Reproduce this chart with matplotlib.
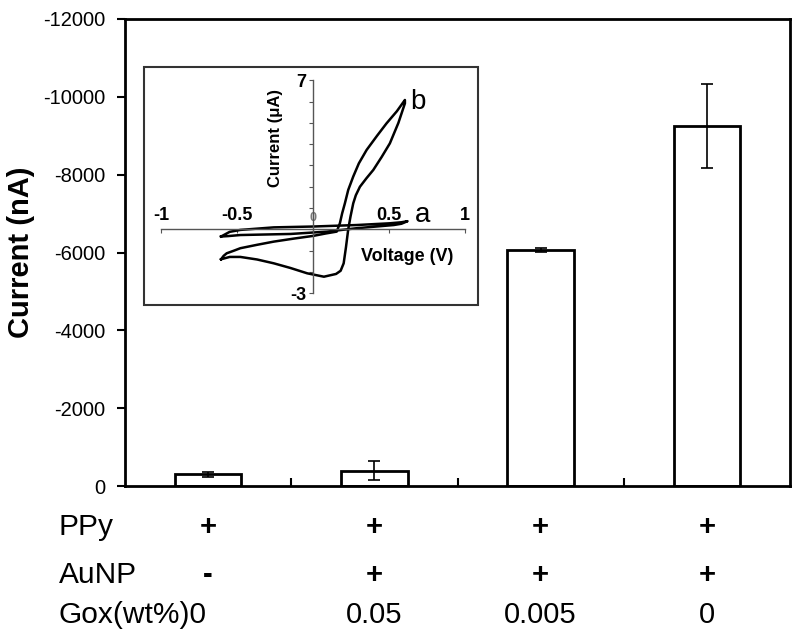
import numpy as np
import matplotlib
matplotlib.use("Agg")
import matplotlib.pyplot as plt
from matplotlib.patches import Rectangle

plt.rcParams['font.family'] = ['Liberation Sans', 'DejaVu Sans']

# main bar data (nA, plotted as negative currents)
currents = [-300, -390, -6070, -9250]
errors = [70, 240, 50, 1090]
ppy_row = ["+", "+", "+", "+"]
aunp_row = ["-", "+", "+", "+"]
gox_row = ["0", "0.05", "0.005", "0"]
yticks = [0, -2000, -4000, -6000, -8000, -10000, -12000]

# inset CV curves (V, uA)
b_v = [-0.607, -0.59, -0.57, -0.52, -0.48, -0.37, -0.26, -0.13, 0.0, 0.08, 0.154, 0.175,
       0.19, 0.208, 0.23, 0.263, 0.30, 0.351, 0.42, 0.482, 0.55, 0.603,
       0.603, 0.56, 0.504, 0.45, 0.395, 0.35, 0.307, 0.28, 0.263, 0.245, 0.23, 0.215,
       0.20, 0.18, 0.15, 0.07, -0.04, -0.15, -0.26, -0.37, -0.48, -0.55, -0.607]
b_i = [-1.41, -1.25, -1.13, -1.0, -0.89, -0.73, -0.58, -0.44, -0.31, -0.2, -0.11, 0.28,
       0.75, 1.22, 1.85, 2.48, 3.1, 3.73, 4.4, 4.98, 5.55, 6.08,
       5.92, 5.0, 4.04, 3.4, 2.79, 2.4, 2.0, 1.6, 1.22, 0.6, 0.0, -0.85,
       -1.6, -1.95, -2.1, -2.23, -2.07, -1.82, -1.6, -1.42, -1.3, -1.3, -1.41]
a_v = [-0.607, -0.55, -0.48, -0.26, 0.0, 0.285, 0.5, 0.58, 0.62,
       0.58, 0.53, 0.285, 0.09, -0.15, -0.48, -0.56, -0.607]
a_i = [-0.34, -0.12, -0.03, 0.09, 0.13, 0.20, 0.28, 0.33, 0.38,
       0.26, 0.20, 0.05, -0.11, -0.22, -0.27, -0.32, -0.34]

fig = plt.figure(figsize=(8, 6.32), dpi=100)
ax = fig.add_axes([125 / 800, 146 / 632, 665 / 800, 467 / 632])

x = np.arange(len(currents))
ax.bar(x, currents, width=0.4, color='white', edgecolor='black', linewidth=2, zorder=2)
ax.errorbar(x, currents, yerr=errors, fmt='none', ecolor='black', elinewidth=1.2,
            capsize=4, capthick=1.2, zorder=3)
ax.set_xlim(-0.5, 3.5)
ax.set_ylim(0, -12000)
ax.set_yticks(yticks)
ax.set_yticklabels([str(t) for t in yticks], fontsize=14.5)
ax.set_xticks([0.5, 1.5, 2.5])
ax.set_xticklabels([])
ax.tick_params(axis='x', direction='in', length=6, width=1.5)
ax.tick_params(axis='y', direction='out', length=6, width=1.5, pad=8)
for s in ax.spines.values():
    s.set_linewidth(2)
ax.set_ylabel("Current (nA)", fontsize=21, fontweight='bold', labelpad=6)

# condition table below the axis
trans = ax.get_xaxis_transform()
rows = [("PPy", ppy_row, -0.105), ("AuNP", aunp_row, -0.208), ("Gox(wt%)", gox_row, -0.293)]
for name, vals, yy in rows:
    if name == "Gox(wt%)":
        # first value sits right after the row name in the original
        ax.text(-0.9, yy, name + vals[0], transform=trans, fontsize=21.5,
                ha='left', va='baseline')
        vals = [None] + vals[1:]
    else:
        ax.text(-0.9, yy, name, transform=trans, fontsize=21.5, ha='left', va='baseline')
    for i, v in enumerate(vals):
        if v is None:
            continue
        wt = 'bold' if v in ("+", "-") else 'normal'
        ax.text(i, yy, v, transform=trans, fontsize=21, fontweight=wt,
                ha='center', va='baseline')

# inset
ins = fig.add_axes([144 / 800, (632 - 305) / 632, 334 / 800, 238 / 632])
ins.set_xlim(-1.114, 1.084)
ins.set_ylim(-3.56, 7.63)
ins.add_patch(Rectangle((0, 0), 1, 1, transform=ins.transAxes, fill=False,
                        edgecolor='#333333', linewidth=1.5, clip_on=False))
ins.plot(b_v, b_i, color='black', linewidth=1.8)
ins.plot(a_v, a_i, color='black', linewidth=1.8)
ins.spines['right'].set_visible(False)
ins.spines['bottom'].set_visible(False)
ins.spines['top'].set_position(('data', 0))
ins.spines['top'].set_bounds(-1, 1)
ins.spines['left'].set_position(('data', 0))
ins.spines['left'].set_bounds(-3, 7)
for s in ('top', 'left'):
    ins.spines[s].set_color('#555555')
    ins.spines[s].set_linewidth(1)
ins.xaxis.set_ticks_position('top')
ins.set_xticks([-1, -0.5, 0, 0.5, 1])
ins.set_xticklabels(["-1", "-0.5", "0", "0.5", "1"], fontsize=13, fontweight='bold')
ins.get_xticklabels()[2].set_fontsize(9)
ins.tick_params(axis='x', direction='in', length=3, pad=4, colors='#555555', labelcolor='black')
ins.get_xticklabels()[2].set_color('#777777')
ins.set_yticks(range(-3, 8))
ins.set_yticklabels(["-3"] + [""] * 9 + ["7"], fontsize=13, fontweight='bold')
ins.tick_params(axis='y', direction='out', length=3, pad=2, colors='#555555', labelcolor='black')
ins.text(-0.25, 4.3, "Current (\u03bcA)", rotation=90, fontsize=12, fontweight='bold',
         ha='center', va='center')
ins.text(0.62, -1.26, "Voltage (V)", fontsize=13, fontweight='bold', ha='center', va='center')
ins.text(0.69, 6.0, "b", fontsize=20, ha='center', va='center')
ins.text(0.72, 0.67, "a", fontsize=20, ha='center', va='center')

fig.savefig("out.png", dpi=100)
